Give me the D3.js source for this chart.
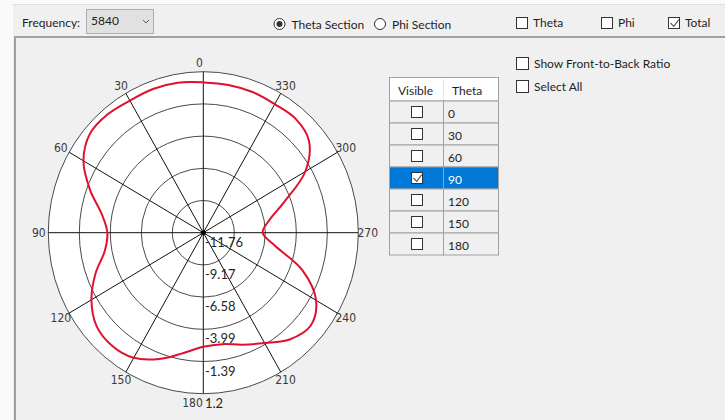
<!DOCTYPE html>
<html>
<head>
<meta charset="utf-8">
<script src="https://cdn.jsdelivr.net/npm/d3@7"></script>
<style>
  html, body { margin: 0; padding: 0; background: #f0f0f0; overflow: hidden; }
  svg { display: block; font-family: Lato, "Open Sans", "Noto Sans", sans-serif; }
</style>
</head>
<body>
<svg id="chart" width="725" height="420"></svg>
<script>
// pattern samples (deg, dB)
var angles = [0, 10, 20, 30, 40, 50, 60, 70, 80, 90, 100, 110, 120, 130, 140, 150, 160, 170,
              180, 190, 200, 210, 220, 230, 240, 250, 260, 270, 280, 290, 300, 310, 320, 330, 340, 350];
var gainDb = [0.34, 0.50, 0.55, 0.52, 0.68, 0.62, -0.19, -1.68, -3.14, -3.74, -3.40, -2.17,
              -0.96, -0.10, 0.11, -0.13, -0.94, -1.91, -2.58, -2.65, -2.17, -1.50, -0.54, -0.07,
              -0.87, -2.95, -5.67, -6.80, -6.19, -4.57, -1.91, -0.23, 0.23, 0.19, 0.29, 0.32];
var ringLabels = ["-11.76", "-9.17", "-6.58", "-3.99", "-1.39", "1.2"];
var spokeAngles = [0, 30, 60, 90, 120, 150, 180, 210, 240, 270, 300, 330];
var thetaRows = ["0", "30", "60", "90", "120", "150", "180"];
var selectedTheta = "90";
var frequency = "5840";

var svg = d3.select("#chart");

// window chrome
svg.append("rect").attr("x", 0).attr("y", 0).attr("width", 13).attr("height", 420).attr("fill", "#fafafa");
svg.append("rect").attr("x", 13).attr("y", 0).attr("width", 712).attr("height", 4).attr("fill", "#fafafa");
svg.append("line").attr("x1", 13).attr("x2", 725).attr("y1", 4.5).attr("y2", 4.5).attr("stroke", "#dedede");
svg.append("line").attr("x1", 15).attr("x2", 725).attr("y1", 37).attr("y2", 37).attr("stroke", "#a0a0a0").attr("stroke-width", 2);
svg.append("line").attr("x1", 15).attr("x2", 15).attr("y1", 36).attr("y2", 420).attr("stroke", "#a0a0a0").attr("stroke-width", 2);

// top toolbar
var toolbar = svg.append("g").attr("font-size", 12).attr("fill", "#1e1e1e");
toolbar.append("text").attr("x", 22).attr("y", 27).text("Frequency:");
toolbar.append("rect").attr("x", 86.5).attr("y", 9.5).attr("width", 67).attr("height", 24)
  .attr("fill", "#e1e1e1").attr("stroke", "#adadad");
toolbar.append("text").attr("x", 91).attr("y", 25).text(frequency);
toolbar.append("path").attr("d", "M143,20 L146,23 L149,20").attr("fill", "none").attr("stroke", "#606060");

var radios = [{ label: "Theta Section", x: 279.5, on: true }, { label: "Phi Section", x: 380, on: false }];
radios.forEach(function (r) {
  toolbar.append("circle").attr("cx", r.x).attr("cy", 24).attr("r", 5.5).attr("fill", "#fff").attr("stroke", "#333");
  if (r.on) toolbar.append("circle").attr("cx", r.x).attr("cy", 24).attr("r", 3).attr("fill", "#333");
  toolbar.append("text").attr("x", r.x + 12).attr("y", 28.5).text(r.label);
});

function checkbox(g, x, y, size, checked, label) {
  g.append("rect").attr("x", x + 0.5).attr("y", y + 0.5).attr("width", size).attr("height", size)
    .attr("fill", "#fff").attr("stroke", "#333");
  if (checked) {
    g.append("path").attr("d", "M" + (x + 2.5) + "," + (y + size / 2 + 0.5) + " l" + (size * 0.3) + "," + (size * 0.3) +
      " l" + (size * 0.45) + "," + (-size * 0.6)).attr("fill", "none").attr("stroke", "#555").attr("stroke-width", 1.1);
  }
  if (label) g.append("text").attr("x", x + size + 6).attr("y", y + size - 1).text(label);
}
checkbox(toolbar, 516, 17, 11, false, "Theta");
checkbox(toolbar, 601, 17, 11, false, "Phi");
checkbox(toolbar, 668, 17, 11, true, "Total");

var opts = svg.append("g").attr("font-size", 12).attr("fill", "#1e1e1e");
checkbox(opts, 516, 57, 12, false, "Show Front-to-Back Ratio");
checkbox(opts, 516, 80, 12, false, "Select All");

// theta table
var tbl = svg.append("g").attr("font-size", 12);
var tx0 = 389.5, tx1 = 443.5, tx2 = 498.5, headTop = 77.5, headH = 23.5, rowH = 22;
var rowY = d3.scaleBand().domain(thetaRows).range([headTop + headH, headTop + headH + rowH * thetaRows.length]);

tbl.append("rect").attr("x", tx0).attr("y", headTop).attr("width", tx2 - tx0).attr("height", headH)
  .attr("fill", "#fff").attr("stroke", "#a0a0a0");
tbl.append("line").attr("x1", tx1).attr("x2", tx1).attr("y1", headTop + 2).attr("y2", headTop + headH)
  .attr("stroke", "#e5e5e5");
tbl.append("text").attr("x", 398).attr("y", 95).attr("fill", "#1e1e1e").text("Visible");
tbl.append("text").attr("x", 452).attr("y", 95).attr("fill", "#1e1e1e").text("Theta");

var rows = tbl.selectAll("g.row").data(thetaRows).enter().append("g").attr("class", "row");
rows.append("rect").attr("x", tx0).attr("y", function (d) { return rowY(d); })
  .attr("width", tx1 - tx0).attr("height", rowY.bandwidth())
  .attr("fill", function (d) { return d === selectedTheta ? "#0078d7" : "#f0f0f0"; })
  .attr("stroke", "#a0a0a0");
rows.append("rect").attr("x", tx1).attr("y", function (d) { return rowY(d); })
  .attr("width", tx2 - tx1).attr("height", rowY.bandwidth())
  .attr("fill", function (d) { return d === selectedTheta ? "#0078d7" : "#f0f0f0"; })
  .attr("stroke", "#a0a0a0");
rows.append("text").attr("x", 448).attr("y", function (d) { return rowY(d) + 16.5; })
  .attr("fill", function (d) { return d === selectedTheta ? "#fff" : "#1e1e1e"; })
  .text(function (d) { return d; });
rows.each(function (d) {
  checkbox(d3.select(this), 411, rowY(d) + 5, 11, d === selectedTheta, null);
});

// polar plot
var cx = 203.3, cy = 232.7, rx = 155, ry = 161;
var rScale = d3.scaleLinear().domain([-11.76, 1.2]).range([0, 1]);
var ringScale = d3.scalePoint().domain(ringLabels).range([0, 1]);
var rad = function (a) { return a * Math.PI / 180; };
function px(a, f) { return cx - rx * f * Math.sin(rad(a)); }
function py(a, f) { return cy - ry * f * Math.cos(rad(a)); }

var plot = svg.append("g");
plot.append("ellipse").attr("cx", cx).attr("cy", cy).attr("rx", rx).attr("ry", ry)
  .attr("fill", "#fff").attr("stroke", "none");

plot.selectAll("ellipse.ring").data(ringLabels.slice(1)).enter().append("ellipse")
  .attr("class", "ring")
  .attr("cx", cx).attr("cy", cy)
  .attr("rx", function (d) { return rx * ringScale(d); })
  .attr("ry", function (d) { return ry * ringScale(d); })
  .attr("fill", "none").attr("stroke", "#4a4a4a").attr("stroke-width", 1);

plot.selectAll("line.spoke").data(spokeAngles).enter().append("line")
  .attr("class", "spoke")
  .attr("x1", cx).attr("y1", cy)
  .attr("x2", function (d) { return px(d, 1); })
  .attr("y2", function (d) { return py(d, 1); })
  .attr("stroke", "#111").attr("stroke-width", 1);

plot.append("circle").attr("cx", cx).attr("cy", cy).attr("r", 2.5).attr("fill", "#000");

// angle labels
plot.selectAll("text.ang").data(spokeAngles).enter().append("text")
  .attr("class", "ang")
  .attr("font-family", "'Liberation Sans Narrow', 'DejaVu Sans Condensed', Lato, sans-serif")
  .attr("font-size", 12).attr("fill", "#3a3a3a")
  .attr("text-anchor", function (d) { return (d % 180 === 0) ? "end" : "middle"; })
  .attr("x", function (d) {
    if (d % 180 === 0) return cx - 0.5;
    return px(d, 1) - 9.5 * Math.sin(rad(d));
  })
  .attr("y", function (d) { return py(d, 1) - 9 * Math.cos(rad(d)) + 4.5; })
  .text(function (d) { return d; });

// ring value labels along the 180 spoke
plot.selectAll("text.val").data(ringLabels).enter().append("text")
  .attr("class", "val")
  .attr("font-size", 13).attr("fill", "#262626")
  .attr("x", cx + 1.7)
  .attr("y", function (d) { return cy + ry * ringScale(d) + 14; })
  .text(function (d) { return d; });

// pattern trace
var pts = angles.map(function (a, i) { return [a, gainDb[i]]; });
var trace = d3.line()
  .x(function (d) { return px(d[0], rScale(d[1])); })
  .y(function (d) { return py(d[0], rScale(d[1])); })
  .curve(d3.curveCatmullRomClosed.alpha(0.5));
plot.append("path").datum(pts).attr("d", trace)
  .attr("fill", "none").attr("stroke", "#e0102e").attr("stroke-width", 2);
</script>
</body>
</html>
